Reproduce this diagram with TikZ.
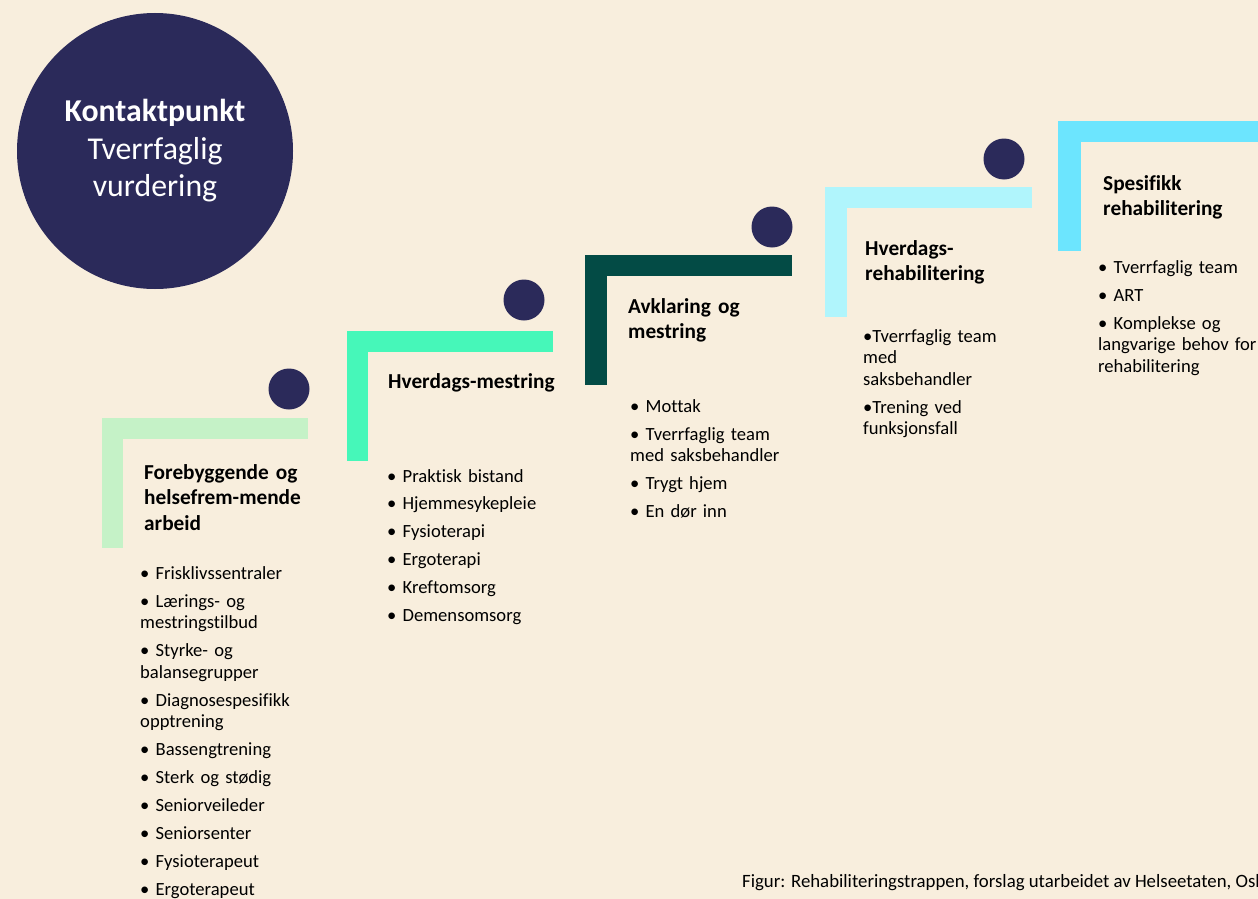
\documentclass[tikz,border=0pt]{standalone}
\usepackage{fontspec}
\setmainfont{Carlito}[Ligatures=NoCommon]
\definecolor{bakgrunn}{HTML}{F8EEDD}
\definecolor{marine}{HTML}{2B2A5A}
\definecolor{lysgronn}{HTML}{C5F2C7}
\definecolor{mintgronn}{HTML}{46F7B9}
\definecolor{morkgronn}{HTML}{034B45}
\definecolor{lysblaa}{HTML}{B0F5FC}
\definecolor{turkis}{HTML}{6CE5FE}
\begin{document}
\begin{tikzpicture}[x=1pt,y=-1pt,
    punkt/.style={fill=marine},
    overskrift/.style={anchor=base west,inner sep=0pt,text width=200pt,align=left,
      font=\bfseries\fontsize{21.3}{25.5}\selectfont},
    liste/.style={anchor=base west,inner sep=0pt,text width=200pt,align=left,
      font=\fontsize{18.6}{21.5}\selectfont}]
        \fill[bakgrunn] (0,0) rectangle (1258,899);
        \useasboundingbox (0,0) rectangle (1258,899);
        % kontaktpunkt
        \node[circle,fill=marine,minimum size=276pt,inner sep=0pt,text=white,align=center,
          font=\fontsize{31.8}{37.5}\selectfont] (kontakt) at (155,151)
          {\textbf{Kontaktpunkt}\\Tverrfaglig\\vurdering};
        % trinn 1
        \fill[lysgronn] (102,418) rectangle (308,439);
        \fill[lysgronn] (102,418) rectangle (123,548);
        \fill[punkt] (289,389) circle (20.5);
        \node[overskrift] (tittel1) at (144,479) {Forebyggende og\\helsefrem-mende\\arbeid};
        \node[liste] (liste1) at (140,579) {• Frisklivssentraler\\[6.5pt]
          • Lærings- og\\mestringstilbud\\[6.5pt]
          • Styrke- og\\balansegrupper\\[6.5pt]
          • Diagnosespesifikk\\opptrening\\[6.5pt]
          • Bassengtrening\\[6.5pt]
          • Sterk og stødig\\[6.5pt]
          • Seniorveileder\\[6.5pt]
          • Seniorsenter\\[6.5pt]
          • Fysioterapeut\\[6.5pt]
          • Ergoterapeut};
        % trinn 2
        \fill[mintgronn] (347,331) rectangle (553,352);
        \fill[mintgronn] (347,331) rectangle (368,461);
        \fill[punkt] (524,300) circle (20.5);
        \node[overskrift] (tittel2) at (388,388) {Hverdags-mestring};
        \node[liste] (liste2) at (387,482) {• Praktisk bistand\\[6.3pt]
          • Hjemmesykepleie\\[6.3pt]
          • Fysioterapi\\[6.3pt]
          • Ergoterapi\\[6.3pt]
          • Kreftomsorg\\[6.3pt]
          • Demensomsorg};
        % trinn 3
        \fill[morkgronn] (585,255) rectangle (792,276);
        \fill[morkgronn] (585,255) rectangle (607,385);
        \fill[punkt] (772,227) circle (20.5);
        \node[overskrift] (tittel3) at (628,313) {Avklaring og\\mestring};
        \node[liste] (liste3) at (630,412) {• Mottak\\[6.5pt]
          • Tverrfaglig team\\med saksbehandler\\[6.5pt]
          • Trygt hjem\\[6.5pt]
          • En dør inn};
        % trinn 4
        \fill[lysblaa] (825,187) rectangle (1032,208);
        \fill[lysblaa] (825,187) rectangle (847,317);
        \fill[punkt] (1004,159) circle (20.5);
        \node[overskrift] (tittel4) at (865,255) {Hverdags-\\rehabilitering};
        \node[liste] (liste4) at (863,342) {•Tverrfaglig team\\med\\saksbehandler\\[6.5pt]
          •Trening ved\\funksjonsfall};
        % trinn 5
        \fill[turkis] (1058,121) rectangle (1258,142);
        \fill[turkis] (1058,121) rectangle (1081,251);
        \node[overskrift] (tittel5) at (1103,190) {Spesifikk\\rehabilitering};
        \node[liste] (liste5) at (1098,273) {• Tverrfaglig team\\[6.5pt]
          • ART\\[6.5pt]
          • Komplekse og\\langvarige behov for\\rehabilitering};
        % kilde
        \node[anchor=base west,inner sep=0pt,font=\fontsize{18.8}{20}\selectfont] (kilde) at (742,887)
          {Figur: Rehabiliteringstrappen, forslag utarbeidet av Helseetaten, Osl};
     \end{tikzpicture}
\end{document}
